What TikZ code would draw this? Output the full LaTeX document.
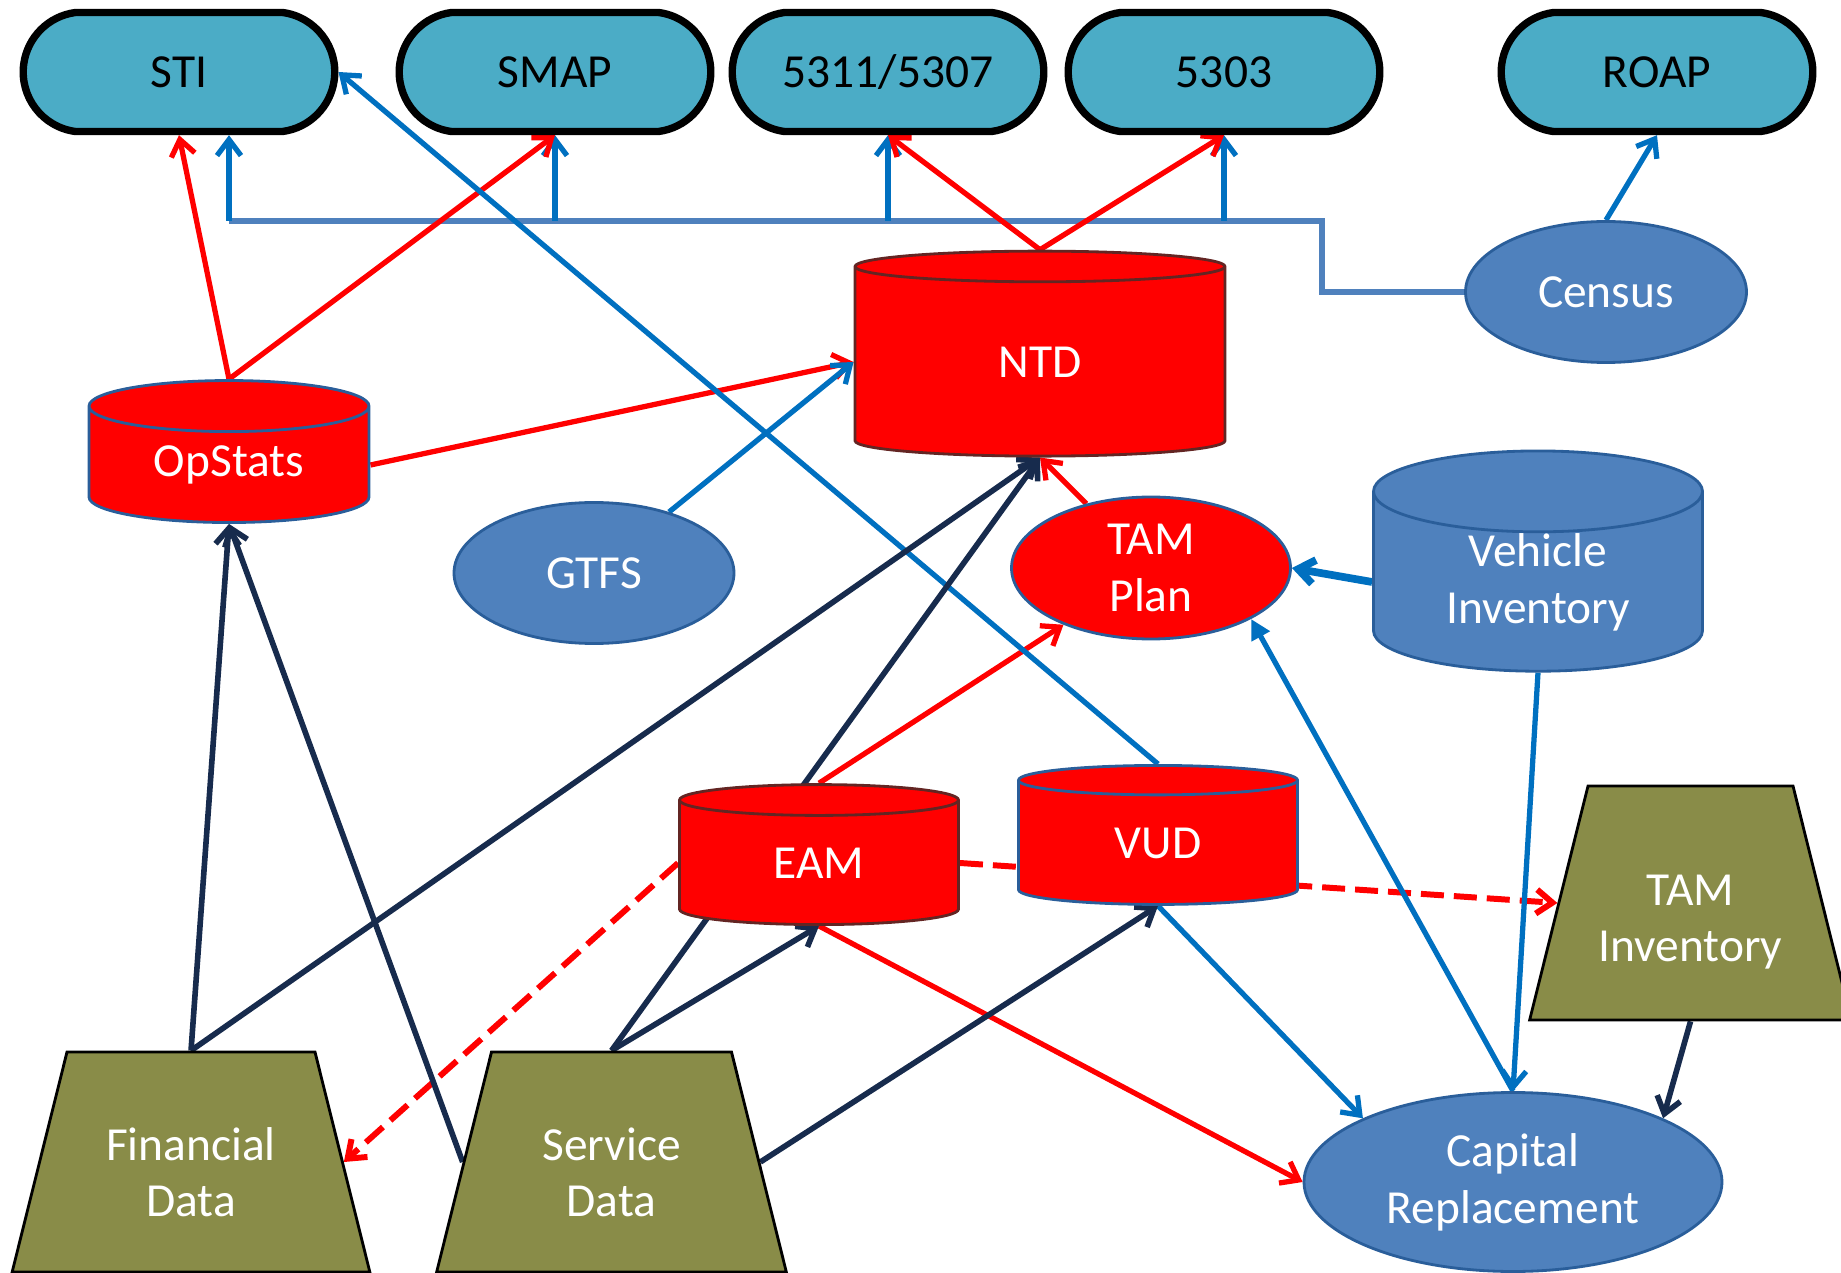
\documentclass[tikz,border=0pt]{standalone}
\usepackage{fontspec}
\setmainfont{Carlito}
\usepackage{tikz}
\usetikzlibrary{shapes.geometric, shapes.misc, arrows.meta, backgrounds}

\definecolor{tealbox}{HTML}{4BACC6}
\definecolor{steel}{HTML}{4F81BD}
\definecolor{steeldark}{HTML}{2A5E9A}
\definecolor{linkblue}{HTML}{0070C0}
\definecolor{navy}{HTML}{172B4D}
\definecolor{olive}{HTML}{898C48}
\definecolor{brick}{HTML}{632523}

\begin{document}
\begin{tikzpicture}[
    font=\fontsize{13.5}{16.2}\selectfont,
    report/.style={rounded rectangle, rounded rectangle arc length=165, draw=black, line width=2.1pt, fill=tealbox, minimum width=3.35cm, minimum height=1.19cm},
    store/.style={cylinder, shape border rotate=90, line width=0.8pt, text=white, align=center, inner sep=0pt},
    redstore/.style={store, fill=red, draw=brick},
    bluestore/.style={store, fill=steel, draw=steeldark},
    source/.style={ellipse, fill=steel, draw=steeldark, line width=0.8pt, text=white, align=center, inner sep=0pt},
    feed/.style={trapezium, trapezium left angle=76, trapezium right angle=76, fill=olive, draw=black, line width=0.8pt, text=white, align=center, inner sep=0pt, text height=1.08cm, text depth=1.12cm},
    barb/.style={-{Straight Barb[length=1.6mm,width=2.4mm]}},
    redlink/.style={barb, red, line width=1.5pt},
    reddash/.style={barb, red, line width=1.7pt, dash pattern=on 2.3mm off 1mm},
    bluelink/.style={barb, linkblue, line width=1.5pt},
    navylink/.style={barb, navy, line width=1.6pt},
    bus/.style={steel, line width=1.7pt}
]
\useasboundingbox (0,0) rectangle (18.41,12.72);

% Reports along the top
\node[report] (sti) at (1.79,12.0) {STI};
\node[report] (smap) at (5.55,12.0) {SMAP};
\node[report] (fta) at (8.88,12.0) {5311/5307};
\node[report] (planning) at (12.24,12.0) {5303};
\node[report] (roap) at (16.57,12.0) {ROAP};

% Databases
\node[redstore, draw=steeldark, minimum width=2.8cm, minimum height=1.42cm, aspect=0.34] (opstats) at (2.29,8.07) {OpStats};
\node[redstore, minimum width=3.7cm, minimum height=2.05cm, aspect=0.37] (ntd) at (10.40,9.10) {NTD};
\node[redstore, minimum width=2.79cm, minimum height=1.4cm, aspect=0.34] (eam) at (8.19,4.09) {EAM};
\node[redstore, draw=steeldark, minimum width=2.79cm, minimum height=1.39cm, aspect=0.34] (vud) at (11.58,4.29) {VUD};
\node[bluestore, minimum width=3.29cm, minimum height=2.10cm, aspect=0.44] (vehinv) at (15.38,6.90) {Vehicle\\Inventory};

% Sources and plans
\node[source, minimum width=2.8cm, minimum height=1.41cm] (gtfs) at (5.94,6.99) {GTFS};
\node[source, minimum width=2.81cm, minimum height=1.41cm] (census) at (16.06,9.80) {Census};
\node[source, fill=red, minimum width=2.79cm, minimum height=1.42cm] (tamplan) at (11.51,7.04) {TAM\\Plan};
\node[source, minimum width=4.18cm, minimum height=1.79cm] (capital) at (15.13,0.90) {Capital\\Replacement};

% Inputs
\node[feed, text width=2.48cm] (findata) at (1.91,1.10) {Financial\\Data};
\node[feed, text width=2.40cm] (svcdata) at (6.115,1.10) {Service\\Data};
\node[feed, text width=2.05cm, text height=1.19cm, text depth=1.15cm] (taminv) at (16.905,3.69) {TAM\\Inventory};

\begin{scope}[on background layer]
% Census bus
\coordinate (busleft) at (2.29,10.51);
\coordinate (busright) at (13.22,10.51);
\draw[bus] (census.west) -| (busright) -- (busleft);
\draw[bluelink] (busleft) -- (busleft |- sti.south);
\draw[bluelink] (smap.south |- busleft) -- (smap.south);
\draw[bluelink] (fta.south |- busleft) -- (fta.south);
\draw[bluelink] (planning.south |- busleft) -- (planning.south);
\draw[bluelink] (census.north) -- (roap.south);

% Red flows
\draw[redlink] (opstats.north) -- (sti.south);
\draw[redlink] (opstats.north) -- (smap.south);
\draw[redlink] (opstats.east) -- (ntd.west);
\draw[redlink] (ntd.north) -- (fta.south);
\draw[redlink] (ntd.north) -- (planning.south);
\draw[redlink] (tamplan) -- (ntd.south);
\draw[redlink] (eam.north) -- (tamplan);
\draw[redlink] (eam.south) -- (capital.west);
\draw[reddash] (eam.west) -- (findata.right side);
\draw[reddash] (eam.east) -- (taminv.left side);

% Blue flows
\draw[bluelink] (vud.north) -- (sti.east);
\draw[bluelink] (gtfs) -- (ntd.west);
\draw[bluelink, line width=2.2pt] (vehinv.west) -- (tamplan.east);
\draw[bluelink] (vehinv.south) -- (capital.north);
\draw[linkblue, line width=1.5pt, -{Triangle[length=2mm,width=2mm]}] (capital.north) -- (tamplan.-27);
\draw[bluelink] (vud.south) -- (capital.157);

% Navy flows
\draw[navylink] (findata.north) -- (opstats.south);
\draw[navylink] (svcdata.left side) -- (opstats.south);
\draw[navylink] (findata.north) -- (ntd.south);
\draw[navylink] (svcdata.north) -- (ntd.south);
\draw[navylink] (svcdata.north) -- (eam.south);
\draw[navylink] (svcdata.right side) -- (vud.south);
\draw[navylink] (taminv.south) -- (capital.23);
\end{scope}
\end{tikzpicture}
\end{document}
